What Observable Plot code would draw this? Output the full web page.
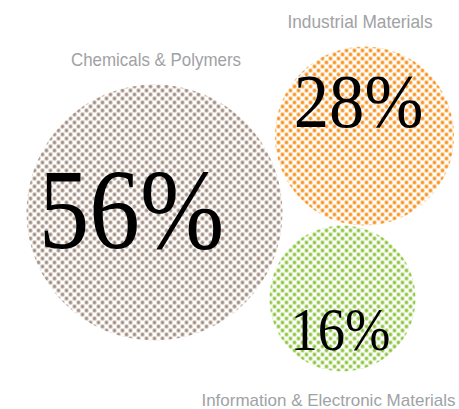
<!DOCTYPE html>
<html>
<head>
<meta charset="utf-8">
<script src="https://cdn.jsdelivr.net/npm/d3@7"></script>
<script src="https://cdn.jsdelivr.net/npm/@observablehq/plot@0.6"></script>
<style>
  html, body { margin: 0; padding: 0; background: #fff; }
</style>
</head>
<body>
<div id="chart"></div>
<script>
// ---- data ----
const categories = ["Chemicals & Polymers", "Industrial Materials", "Information & Electronic Materials"];
const shares = [56, 28, 16];
const shareLabels = ["56%", "28%", "16%"];
const dotColors = ["#a38d80", "#f7931e", "#8cc63f"];

// ---- layout (chart units) ----
const cx = [154, 364, 342];
const cy = [212, 135.5, 298];
const pctX = [131, 358, 340];
const pctY = [247, 126, 349];
const pctSize = [115, 76, 62];
const pctSqueeze = [0.88, 0.93, 0.88];
const nameX = [155.5, 359.5, 328];
const nameY = [65, 27, 405];
const nameSize = [19, 19, 17];
const nameSqueeze = [0.89, 0.91, 1.0];

const rows = categories.map((c, i) => ({
  category: c, share: shares[i], label: shareLabels[i],
  cx: cx[i], cy: cy[i], px: pctX[i], py: pctY[i], ps: pctSize[i],
  nx: nameX[i], ny: nameY[i], ns: nameSize[i]
}));
const patternIds = categories.map((c, i) => `dots-${i}`);

const W = 459, H = 409;
const chart = Plot.plot({
  width: W, height: H, margin: 0,
  x: {domain: [0, W], range: [0, W], axis: null},
  y: {domain: [0, H], range: [0, H], axis: null},
  r: {type: "linear", domain: [16, 56], range: [73, 128]},
  color: {domain: categories, range: patternIds.map(id => `url(#${id})`)},
  marks: [
    Plot.dot(rows, {x: "cx", y: "cy", r: "share", fill: "category", stroke: null}),
    Plot.text(rows, {x: "px", y: "py", text: "label", fontSize: "ps",
      fontFamily: "'Liberation Serif', 'DejaVu Serif', serif", fill: "#000",
      textAnchor: "middle", lineAnchor: "bottom"}),
    Plot.text(rows, {x: "nx", y: "ny", text: "category", fontSize: "ns",
      fontFamily: "'Liberation Sans', Arial, sans-serif",
      fill: "#a0a2a5", textAnchor: "middle", lineAnchor: "bottom"})
  ]
});

document.getElementById("chart").appendChild(chart);

// dot-screen patterns
const svgEl = chart.tagName.toLowerCase() === "svg" ? chart : chart.querySelector("svg");
const svg = d3.select(svgEl);
const defs = svg.insert("defs", ":first-child");
dotColors.forEach((col, i) => {
  const p = defs.append("pattern").attr("id", patternIds[i])
    .attr("patternUnits", "userSpaceOnUse").attr("width", 8).attr("height", 8);
  p.append("circle").attr("cx", 2).attr("cy", 2).attr("r", 1.9).attr("fill", col);
  p.append("circle").attr("cx", 6).attr("cy", 6).attr("r", 1.9).attr("fill", col);
});

// condensed look: squeeze glyphs horizontally
const textGroups = svgEl.querySelectorAll('g[aria-label="text"]');
function condense(group, factors) {
  if (!group) return;
  group.querySelectorAll("text").forEach((t, i) => {
    const w = t.getComputedTextLength();
    const f = factors[i];
    if (w > 0 && f !== 1) {
      t.setAttribute("textLength", (w * f).toFixed(1));
      t.setAttribute("lengthAdjust", "spacingAndGlyphs");
    }
  });
}
condense(textGroups[0], pctSqueeze);
condense(textGroups[1], nameSqueeze);
</script>
</body>
</html>
